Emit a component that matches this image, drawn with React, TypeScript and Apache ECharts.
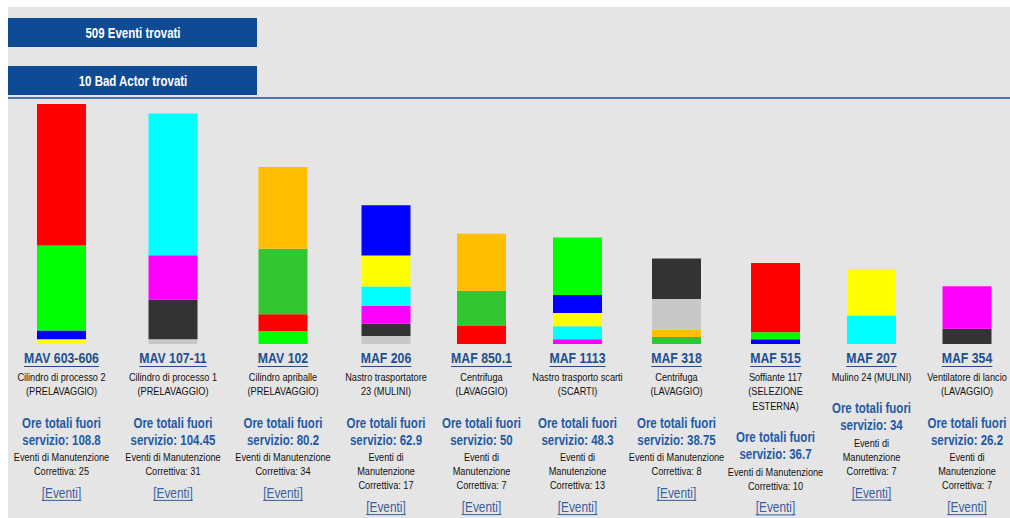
import React, { useEffect, useRef } from "react";
import * as echarts from "echarts";

// ---------- data ----------
const headerTexts = ["509 Eventi trovati", "10 Bad Actor trovati"];
const names = ["MAV 603-606", "MAV 107-11", "MAV 102", "MAF 206", "MAF 850.1", "MAF 1113", "MAF 318", "MAF 515", "MAF 207", "MAF 354"];
const descriptions = [
  ["Cilindro di processo 2", "(PRELAVAGGIO)"],
  ["Cilindro di processo 1", "(PRELAVAGGIO)"],
  ["Cilindro apriballe", "(PRELAVAGGIO)"],
  ["Nastro trasportatore", "23 (MULINI)"],
  ["Centrifuga", "(LAVAGGIO)"],
  ["Nastro trasporto scarti", "(SCARTI)"],
  ["Centrifuga", "(LAVAGGIO)"],
  ["Soffiante 117", "(SELEZIONE", "ESTERNA)"],
  ["Mulino 24 (MULINI)"],
  ["Ventilatore di lancio", "(LAVAGGIO)"],
];
const totalHours = ["108.8", "104.45", "80.2", "62.9", "50", "48.3", "38.75", "36.7", "34", "26.2"];
const correctiveEvents = [25, 31, 34, 17, 7, 13, 8, 10, 7, 7];
// stacked segments, bottom to top
const segmentValues = [
  [2.2, 3.9, 38.5, 64.2],
  [2.1, 17.95, 20.2, 64.2],
  [5.9, 7.6, 29.7, 37.0],
  [3.6, 5.6, 8.1, 8.8, 14.0, 22.8],
  [8.2, 15.8, 26.0],
  [2.1, 6.0, 5.9, 8.2, 26.1],
  [3.15, 3.3, 14.0, 18.3],
  [2.1, 3.2, 31.4],
  [12.9, 21.1],
  [6.9, 19.3],
];
const segmentColors = [
  ["yellow", "blue", "lime", "red"],
  ["lightgray", "dark", "magenta", "cyan"],
  ["lime", "red", "green", "orange"],
  ["lightgray", "dark", "magenta", "cyan", "yellow", "blue"],
  ["red", "green", "orange"],
  ["magenta", "cyan", "yellow", "blue", "lime"],
  ["green", "orange", "lightgray", "dark"],
  ["blue", "lime", "red"],
  ["cyan", "yellow"],
  ["dark", "magenta"],
];

// ---------- layout & style ----------
const palette: Record<string, string> = {
  red: "#ff0000",
  lime: "#00ff00",
  blue: "#0000ff",
  yellow: "#ffff00",
  cyan: "#00ffff",
  magenta: "#ff00ff",
  dark: "#333333",
  lightgray: "#c8c8c8",
  orange: "#ffbf00",
  green: "#33c633",
};
const columnCenters = [61.5, 173, 283, 386, 481.5, 577.5, 676.5, 775.5, 871.5, 967];
const eventWrapNarrow = [false, false, false, true, true, true, false, false, true, true];
const BAR_W = 49;
const PLOT_TOP = 104;
const PLOT_BOTTOM = 344;
const FONT = "'Liberation Sans', Arial, sans-serif";
const SX = 0.82; // horizontal squeeze to emulate a narrow face
const LINK = "#1d4f91";
const ORE = "#1f5aa6";
const TEXT = "#111111";

function measure(text: string, font: string): number {
  const c = document.createElement("canvas").getContext("2d");
  if (!c) return text.length * 6;
  c.font = font;
  return c.measureText(text).width;
}

export default function App() {
  const ref = useRef<HTMLDivElement>(null);
  useEffect(() => {
    if (!ref.current) return;
    const chart = echarts.init(ref.current, undefined, { renderer: "svg" });
    const maxTotal = Math.max(...segmentValues.map((s) => s.reduce((a, b) => a + b, 0)));

    const grid: any[] = [];
    const xAxis: any[] = [];
    const yAxis: any[] = [];
    const series: any[] = [];
    names.forEach((n, i) => {
      grid.push({ left: columnCenters[i] - BAR_W / 2, width: BAR_W, top: PLOT_TOP, height: PLOT_BOTTOM - PLOT_TOP });
      xAxis.push({ type: "category", gridIndex: i, data: [n], show: false });
      yAxis.push({ type: "value", gridIndex: i, min: 0, max: maxTotal, show: false });
      segmentValues[i].forEach((v, j) => {
        series.push({
          type: "bar",
          xAxisIndex: i,
          yAxisIndex: i,
          stack: "col" + i,
          barWidth: "100%",
          data: [v],
          itemStyle: { color: palette[segmentColors[i][j]] },
          silent: true,
        });
      });
    });

    const txt = (x: number, y: number, text: string, font: string, fill: string) => ({
      type: "text",
      x,
      y,
      scaleX: SX,
      style: { text, fill, font, textAlign: "center", textVerticalAlign: "middle", align: "center", verticalAlign: "middle" },
    });
    const underline = (cx: number, y: number, text: string, font: string, color: string) => {
      const w = measure(text, font) * SX;
      return { type: "line", shape: { x1: cx - w / 2, y1: y, x2: cx + w / 2, y2: y }, style: { stroke: color, lineWidth: 1 } };
    };

    const graphics: any[] = [];
    graphics.push({ type: "rect", shape: { x: 8, y: 7, width: 1002, height: 511 }, style: { fill: "#e5e5e5" }, z: -10 });
    headerTexts.forEach((t, k) => {
      const y = 18 + k * 48;
      graphics.push({ type: "rect", shape: { x: 8, y, width: 249, height: 29 }, style: { fill: "#0f4a94" } });
      graphics.push(txt(133, y + 15, t, `bold 14px ${FONT}`, "#ffffff"));
    });
    graphics.push({ type: "line", shape: { x1: 8, y1: 98, x2: 1010, y2: 98 }, style: { stroke: "#4f76b0", lineWidth: 2 } });

    names.forEach((n, i) => {
      const cx = columnCenters[i];
      const nameFont = `bold 15px ${FONT}`;
      graphics.push(txt(cx, 358.5, n, nameFont, LINK));
      graphics.push(underline(cx, 366.5, n, nameFont, LINK));
      let y = 377;
      const smallFont = `11.2px ${FONT}`;
      descriptions[i].forEach((d, k) => {
        if (k > 0) y += 14.5;
        graphics.push(txt(cx, y, d, smallFont, TEXT));
      });
      y += 31.5;
      const oreFont = `bold 14px ${FONT}`;
      graphics.push(txt(cx, y, "Ore totali fuori", oreFont, ORE));
      y += 16.7;
      graphics.push(txt(cx, y, "servizio: " + totalHours[i], oreFont, ORE));
      y += 17.5;
      const evLines = eventWrapNarrow[i]
        ? ["Eventi di", "Manutenzione", "Correttiva: " + correctiveEvents[i]]
        : ["Eventi di Manutenzione", "Correttiva: " + correctiveEvents[i]];
      evLines.forEach((l, k) => {
        if (k > 0) y += 14.2;
        graphics.push(txt(cx, y, l, smallFont, TEXT));
      });
      y += 21.5;
      const linkFont = `14.5px ${FONT}`;
      graphics.push(txt(cx, y, "[Eventi]", linkFont, "#3a5fa0"));
      graphics.push(underline(cx, y + 7.5, "[Eventi]", linkFont, "#3a5fa0"));
    });

    chart.setOption({
      animation: false,
      backgroundColor: "#ffffff",
      grid,
      xAxis,
      yAxis,
      series,
      graphic: { elements: graphics },
    });
    return () => chart.dispose();
  }, []);
  return <div ref={ref} style={{ position: "absolute", left: 0, top: 0, width: 1010, height: 518 }} />;
}
